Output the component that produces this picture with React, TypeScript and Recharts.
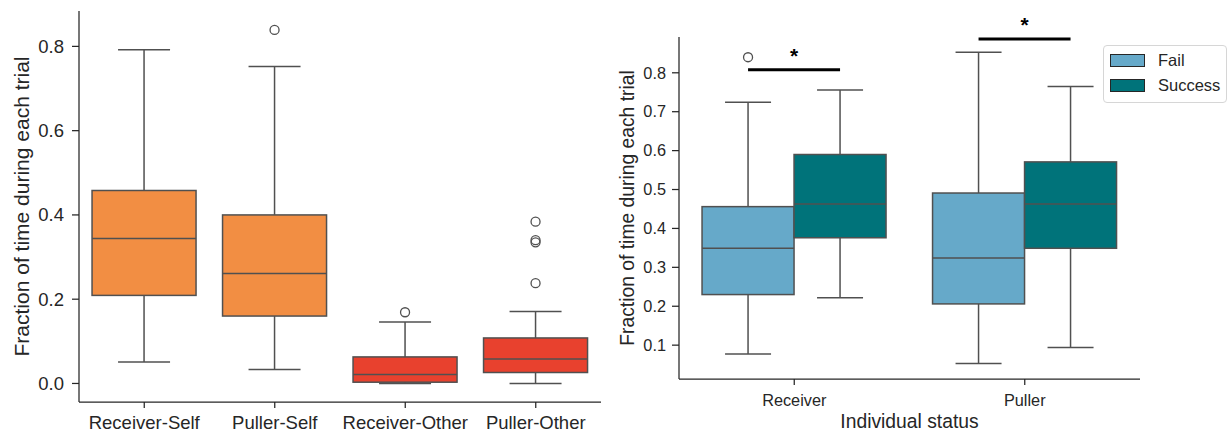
import { ComposedChart, Bar, XAxis, YAxis, Legend } from "recharts";

const FONT = '"Liberation Sans", Arial, sans-serif';
const INK = "#262626";
const EDGE = "#505050";

// Left panel: where each role looks during a trial
const roleGroups = ["Receiver-Self", "Puller-Self", "Receiver-Other", "Puller-Other"];
const roleLow = [0.051, 0.033, 0.0, 0.0];
const roleQ1 = [0.209, 0.16, 0.003, 0.026];
const roleMedian = [0.344, 0.261, 0.021, 0.058];
const roleQ3 = [0.458, 0.4, 0.063, 0.108];
const roleHigh = [0.792, 0.752, 0.146, 0.171];
const roleOutliers = [[], [0.839], [0.169], [0.384, 0.34, 0.335, 0.238]];
const roleColors = ["#F28E43", "#F28E43", "#E8412E", "#E8412E"];
const roleTicks = [0, 0.2, 0.4, 0.6, 0.8];

// Right panel: fail vs success trials per individual status
const statusGroups = ["Receiver", "Puller"];
const failLow = [0.077, 0.053];
const failQ1 = [0.23, 0.206];
const failMedian = [0.349, 0.324];
const failQ3 = [0.456, 0.491];
const failHigh = [0.724, 0.853];
const failOutliers = [[0.84], []];
const successLow = [0.222, 0.094];
const successQ1 = [0.376, 0.349];
const successMedian = [0.463, 0.463];
const successQ3 = [0.59, 0.571];
const successHigh = [0.756, 0.765];
const successOutliers = [[], []];
const sigLevel = [0.808, 0.887];
const sigMark = ["*", "*"];
const failColor = "#66A9C9";
const successColor = "#00737A";
const statusTicks = [0.1, 0.2, 0.3, 0.4, 0.5, 0.6, 0.7, 0.8];

type Stats = {
  low: number;
  q1: number;
  median: number;
  q3: number;
  high: number;
  outliers: number[];
  color: string;
};

const roleData = roleGroups.map((name, i) => ({
  name,
  box: [roleQ1[i], roleQ3[i]],
  stats: {
    low: roleLow[i],
    q1: roleQ1[i],
    median: roleMedian[i],
    q3: roleQ3[i],
    high: roleHigh[i],
    outliers: roleOutliers[i],
    color: roleColors[i],
  } as Stats,
}));

const statusData = statusGroups.map((name, i) => ({
  name,
  failBox: [failQ1[i], failQ3[i]],
  successBox: [successQ1[i], successQ3[i]],
  fail: {
    low: failLow[i],
    q1: failQ1[i],
    median: failMedian[i],
    q3: failQ3[i],
    high: failHigh[i],
    outliers: failOutliers[i],
    color: failColor,
  } as Stats,
  success: {
    low: successLow[i],
    q1: successQ1[i],
    median: successMedian[i],
    q3: successQ3[i],
    high: successHigh[i],
    outliers: successOutliers[i],
    color: successColor,
  } as Stats,
  sig: sigLevel[i],
  mark: sigMark[i],
}));

// The bar spans q1..q3, so its pixel height gives the value scale for the rest of the box
function boxPlot(props: any, s: Stats, sig?: { level: number; mark: string }) {
  const { x, y, width, height } = props;
  const top = Math.min(y, y + height);
  const h = Math.abs(height);
  const k = h / (s.q3 - s.q1);
  const py = (v: number) => top + (s.q3 - v) * k;
  const cx = x + width / 2;
  const cap = width / 4;
  const line = { stroke: EDGE, strokeWidth: 1.5 };
  return (
    <g>
      <line x1={cx} x2={cx} y1={py(s.q3)} y2={py(s.high)} {...line} />
      <line x1={cx} x2={cx} y1={py(s.q1)} y2={py(s.low)} {...line} />
      <line x1={cx - cap} x2={cx + cap} y1={py(s.high)} y2={py(s.high)} {...line} />
      <line x1={cx - cap} x2={cx + cap} y1={py(s.low)} y2={py(s.low)} {...line} />
      <rect x={x} y={top} width={width} height={h} fill={s.color} {...line} />
      <line x1={x} x2={x + width} y1={py(s.median)} y2={py(s.median)} {...line} />
      {s.outliers.map((o, i) => (
        <circle key={i} cx={cx} cy={py(o)} r={4.5} fill="none" stroke={EDGE} strokeWidth={1.3} />
      ))}
      {sig && (
        <g>
          <line x1={cx} x2={cx + width} y1={py(sig.level)} y2={py(sig.level)} stroke="#000" strokeWidth={3} />
          <text
            x={x + width}
            y={py(sig.level) - 7}
            textAnchor="middle"
            fontFamily={FONT}
            fontSize={21}
            fontWeight="bold"
            fill="#000"
          >
            {sig.mark}
          </text>
        </g>
      )}
    </g>
  );
}

const renderLegend = (props: any) => (
  <div
    style={{
      border: "1px solid #d6d6d6",
      borderRadius: 4,
      background: "#fff",
      padding: "2px 0 4px 6px",
      fontFamily: FONT,
      fontSize: 16.5,
      color: INK,
    }}
  >
    {(props.payload || []).map((item: any) => (
      <div key={item.value} style={{ display: "flex", alignItems: "center", height: 25 }}>
        <span
          style={{
            display: "inline-block",
            width: 33,
            height: 11,
            background: item.color,
            border: `1px solid ${INK}`,
            marginRight: 13,
          }}
        />
        {item.value}
      </div>
    ))}
  </div>
);

export default function App() {
  const axisLine = { stroke: INK, strokeWidth: 1.25 };
  return (
    <div style={{ position: "absolute", left: 0, top: 0, width: 1228, height: 434, background: "#fff" }}>
      <div style={{ position: "absolute", left: 0, top: 0 }}>
        <ComposedChart width={610} height={434} data={roleData} margin={{ top: 11, right: 9, bottom: 0, left: 19 }} barCategoryGap="10%">
          <XAxis
            dataKey="name"
            height={32}
            axisLine={axisLine}
            tickLine={axisLine}
            tickSize={6}
            tickMargin={8}
            tick={{ fill: INK, fontSize: 18.5, fontFamily: FONT }}
          />
          <YAxis
            type="number"
            domain={[-0.044, 0.884]}
            ticks={roleTicks}
            tickFormatter={(v: number) => v.toFixed(1)}
            width={60}
            axisLine={axisLine}
            tickLine={axisLine}
            tickSize={7}
            tickMargin={8}
            tick={{ fill: INK, fontSize: 18.5, fontFamily: FONT }}
            label={{
              value: "Fraction of time during each trial",
              angle: -90,
              position: "insideLeft",
              offset: 3,
              style: { textAnchor: "middle", fontSize: 21, fill: INK, fontFamily: FONT },
            }}
          />
          <Bar
            dataKey="box"
            isAnimationActive={false}
            shape={(p: any) => boxPlot(p, p.payload.stats)}
          />
        </ComposedChart>
      </div>
      <div style={{ position: "absolute", left: 610, top: 0 }}>
        <ComposedChart width={618} height={434} data={statusData} margin={{ top: 37, right: 88, bottom: 0, left: 14 }} barCategoryGap="10%" barGap={0}>
          <XAxis
            dataKey="name"
            height={55}
            axisLine={axisLine}
            tickLine={axisLine}
            tickSize={6}
            tickMargin={9}
            tick={{ fill: INK, fontSize: 16.3, fontFamily: FONT }}
            label={{
              value: "Individual status",
              position: "insideBottom",
              offset: 6,
              style: { fontSize: 19.3, fill: INK, fontFamily: FONT },
            }}
          />
          <YAxis
            type="number"
            domain={[0.013, 0.892]}
            ticks={statusTicks}
            tickFormatter={(v: number) => v.toFixed(1)}
            width={55}
            axisLine={axisLine}
            tickLine={axisLine}
            tickSize={7}
            tickMargin={6}
            tick={{ fill: INK, fontSize: 16.3, fontFamily: FONT }}
            label={{
              value: "Fraction of time during each trial",
              angle: -90,
              position: "insideLeft",
              offset: 3,
              style: { textAnchor: "middle", fontSize: 19.3, fill: INK, fontFamily: FONT },
            }}
          />
          <Bar
            dataKey="failBox"
            name="Fail"
            fill={failColor}
            isAnimationActive={false}
            shape={(p: any) => boxPlot(p, p.payload.fail, { level: p.payload.sig, mark: p.payload.mark })}
          />
          <Bar
            dataKey="successBox"
            name="Success"
            fill={successColor}
            isAnimationActive={false}
            shape={(p: any) => boxPlot(p, p.payload.success)}
          />
          <Legend
            layout="vertical"
            align="center"
            verticalAlign="middle"
            content={renderLegend}
            wrapperStyle={{ top: 45, left: 493, width: 124 }}
          />
        </ComposedChart>
      </div>
    </div>
  );
}
